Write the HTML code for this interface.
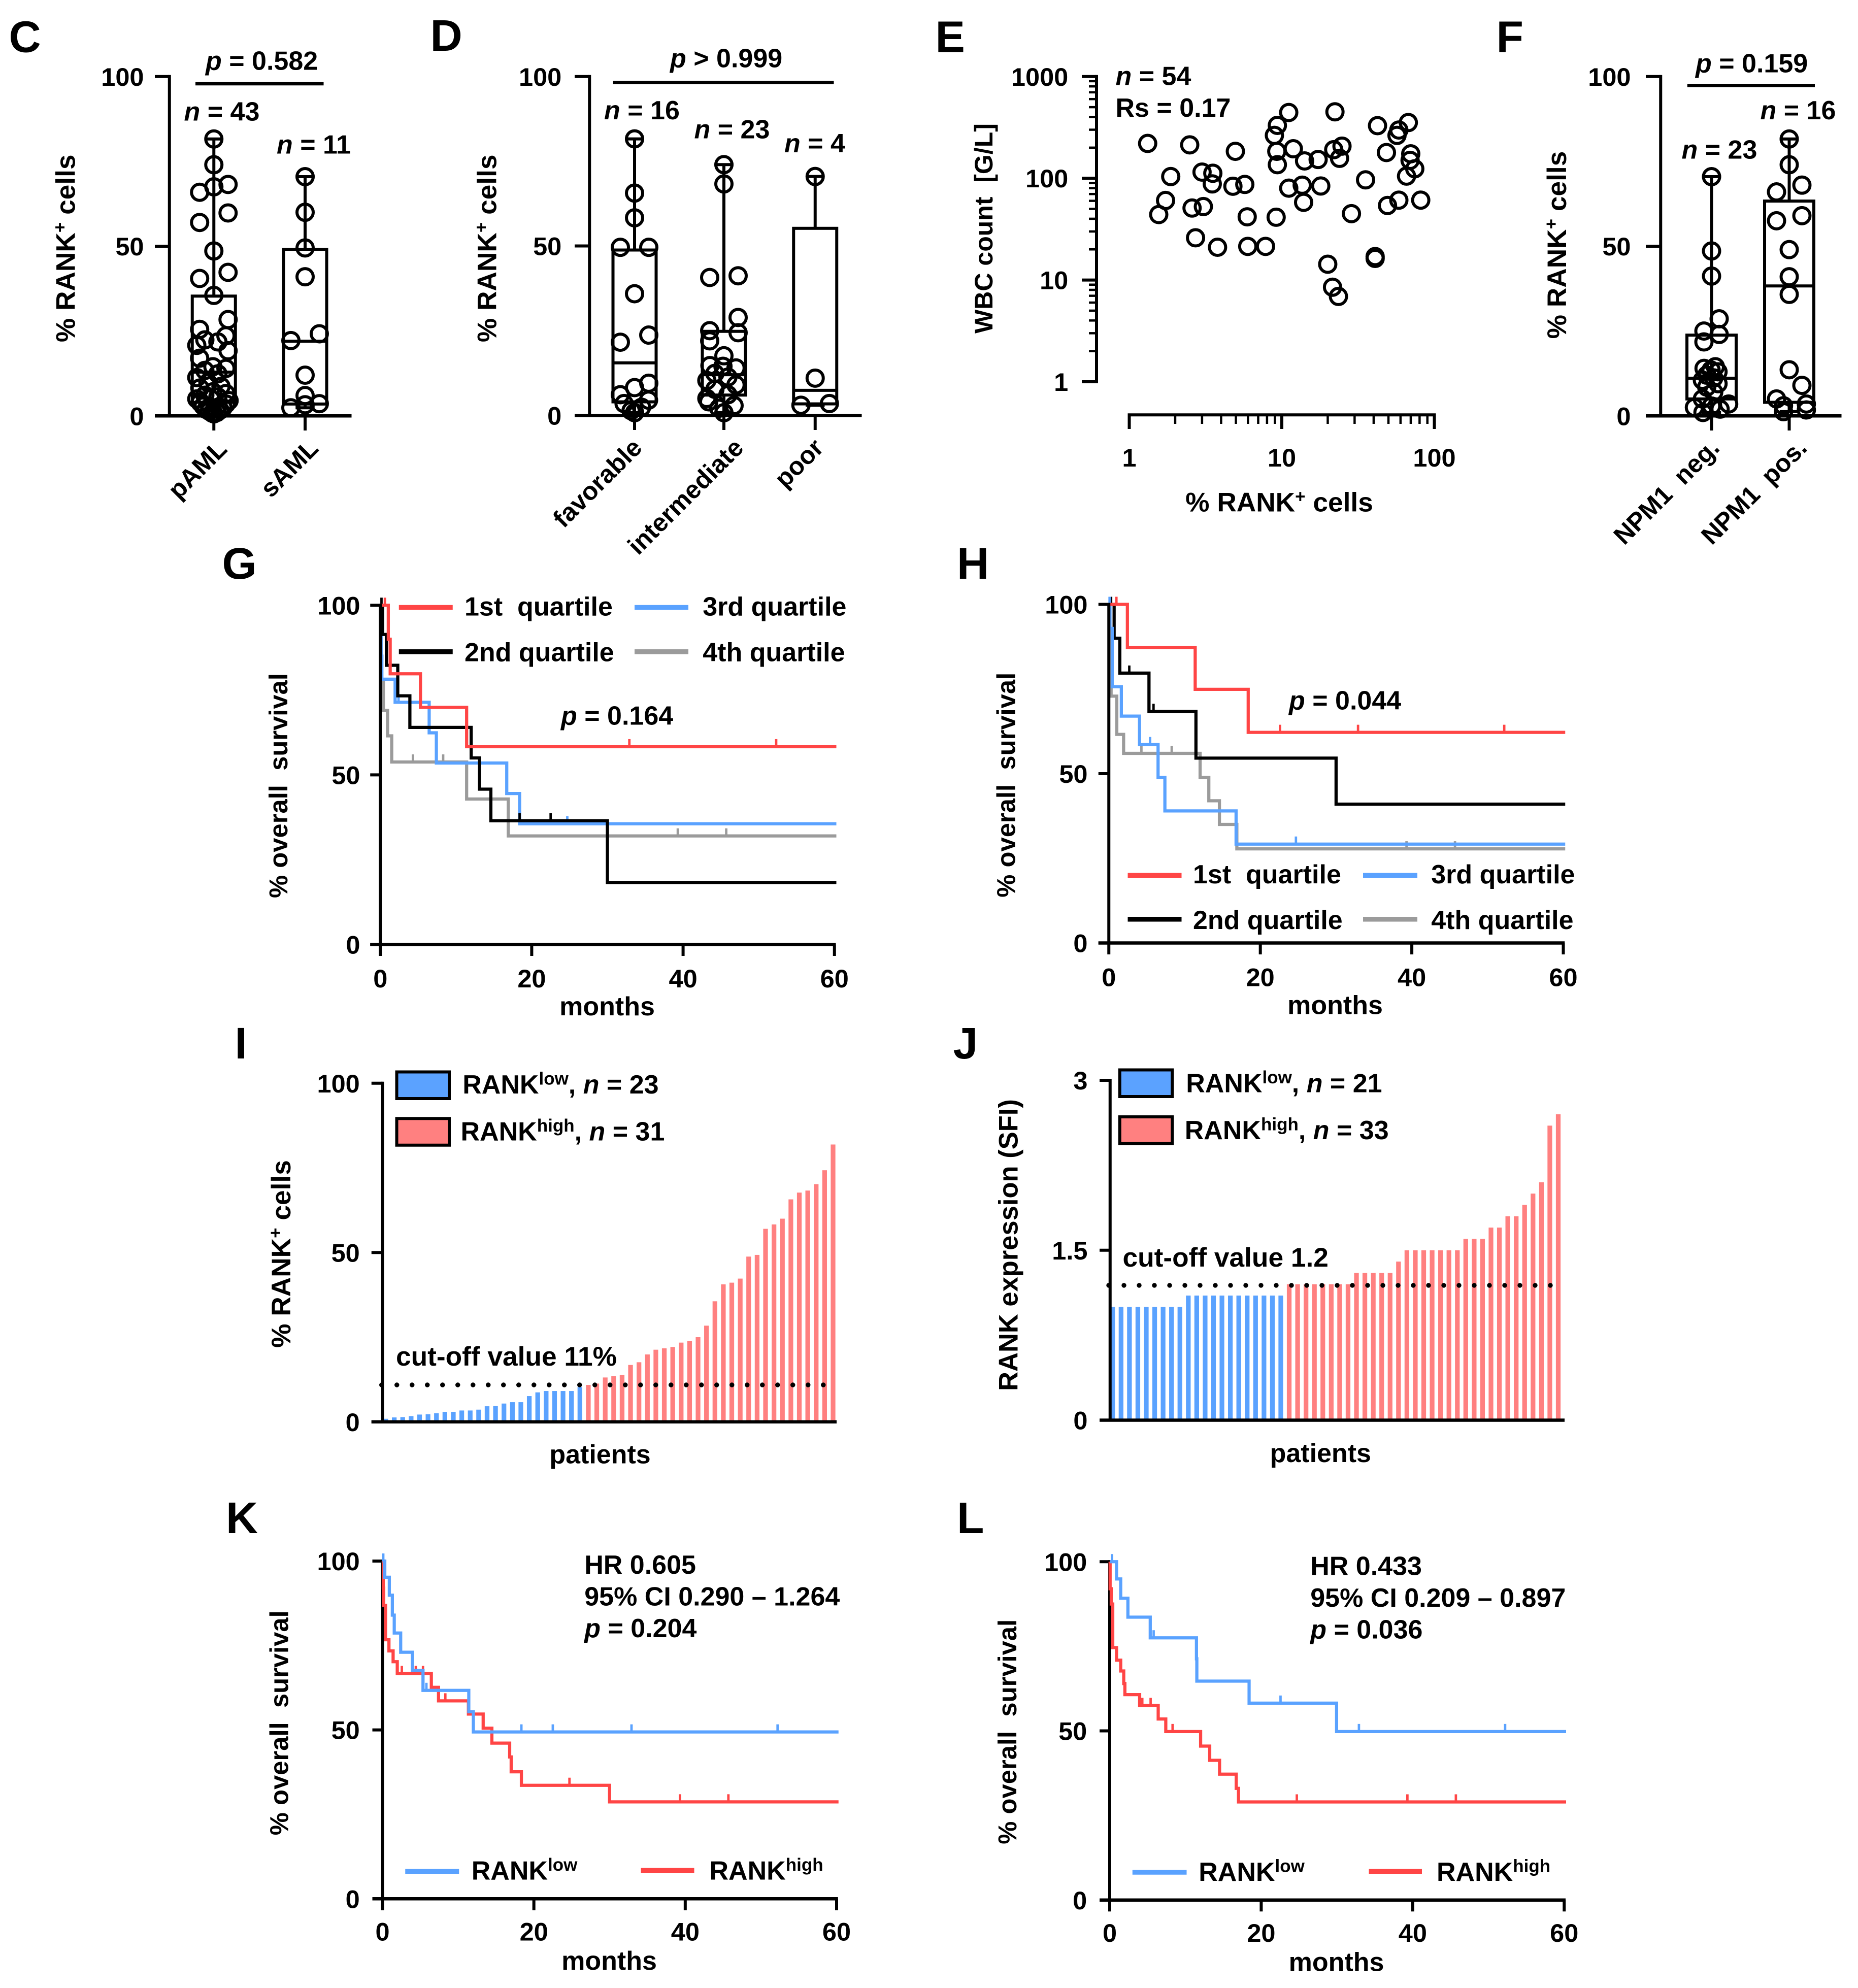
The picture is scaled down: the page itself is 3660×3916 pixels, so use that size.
<!DOCTYPE html>
<html lang="en">
<head>
<meta charset="utf-8">
<title>RANK expression in AML – panels C to L</title>
<style>
html,body{margin:0;padding:0;background:#fff;}
svg{display:block;}
text{font-family:"Liberation Sans",Arial,sans-serif;font-weight:bold;font-size:20.8px;fill:#000;white-space:pre;}
.pl{font-size:35px;}
.it{font-style:italic;}
.sup{font-size:14px;}
.tk{font-size:20.2px;}
.cat{font-size:20px;}
.yr{font-size:21.3px;}
.ys{font-size:20.3px;}
.yw{font-size:20px;}
.yj{font-size:21px;}
</style>
</head>
<body>
<svg id="fig" xmlns="http://www.w3.org/2000/svg" width="3660" height="3916" viewBox="0 0 1464 1566.4">
<rect x="0" y="0" width="1464" height="1566.4" fill="#fff"/>

<!-- panel letters -->
<text class="pl" x="7" y="41">C</text>
<text class="pl" x="339" y="40">D</text>
<text class="pl" x="737" y="41">E</text>
<text class="pl" x="1179" y="41">F</text>
<text class="pl" x="175" y="456">G</text>
<text class="pl" x="754" y="456">H</text>
<text class="pl" x="185" y="834">I</text>
<text class="pl" x="751" y="834">J</text>
<text class="pl" x="178" y="1208">K</text>
<text class="pl" x="754" y="1208">L</text>

<!-- panel C annotations -->
<text class="yr" x="59" y="195.7" text-anchor="middle" transform="rotate(-90 59 195.7)">% RANK<tspan class="sup" dy="-7">+</tspan><tspan dy="7"> cells</tspan></text>
<text x="162" y="55"><tspan class="it">p</tspan> = 0.582</text>
<line x1="154" y1="66" x2="255" y2="66" stroke="#000" stroke-width="2.6"/>
<text x="145" y="95"><tspan class="it">n</tspan> = 43</text>
<text x="218" y="121"><tspan class="it">n</tspan> = 11</text>

<!-- panel D annotations -->
<text class="yr" x="391" y="195.7" text-anchor="middle" transform="rotate(-90 391 195.7)">% RANK<tspan class="sup" dy="-7">+</tspan><tspan dy="7"> cells</tspan></text>
<text x="528" y="53"><tspan class="it">p</tspan> &gt; 0.999</text>
<line x1="483" y1="65" x2="657" y2="65" stroke="#000" stroke-width="2.6"/>
<text x="476" y="94"><tspan class="it">n</tspan> = 16</text>
<text x="547" y="109"><tspan class="it">n</tspan> = 23</text>
<text x="618" y="120"><tspan class="it">n</tspan> = 4</text>

<!-- panel E annotations -->
<text class="yw" x="782" y="180" text-anchor="middle" transform="rotate(-90 782 180)">WBC count  [G/L]</text>
<text class="yr" x="1008" y="403" text-anchor="middle">% RANK<tspan class="sup" dy="-7">+</tspan><tspan dy="7"> cells</tspan></text>
<text x="879" y="67"><tspan class="it">n</tspan> = 54</text>
<text x="879" y="92">Rs = 0.17</text>

<!-- panel F annotations -->
<text class="yr" x="1234" y="193" text-anchor="middle" transform="rotate(-90 1234 193)">% RANK<tspan class="sup" dy="-7">+</tspan><tspan dy="7"> cells</tspan></text>
<text x="1336" y="57"><tspan class="it">p</tspan> = 0.159</text>
<line x1="1329.5" y1="67.3" x2="1430" y2="67.3" stroke="#000" stroke-width="2.6"/>
<text x="1325" y="125"><tspan class="it">n</tspan> = 23</text>
<text x="1387" y="94"><tspan class="it">n</tspan> = 16</text>

<!-- panel G annotations -->
<text class="ys" x="226.4" y="619" text-anchor="middle" transform="rotate(-90 226.4 619)">% overall  survival</text>
<text x="478.4" y="800" text-anchor="middle">months</text>
<text x="442" y="571"><tspan class="it">p</tspan> = 0.164</text>
<line x1="314.3" y1="478.6" x2="356.7" y2="478.6" stroke="#ff4545" stroke-width="3.8"/>
<text x="366" y="485">1st  quartile</text>
<line x1="500" y1="478.6" x2="542.4" y2="478.6" stroke="#5aa2ff" stroke-width="3.8"/>
<text x="553.7" y="485">3rd quartile</text>
<line x1="314.3" y1="513.5" x2="356.7" y2="513.5" stroke="#000" stroke-width="3.8"/>
<text x="366" y="521">2nd quartile</text>
<line x1="500" y1="513.5" x2="542.4" y2="513.5" stroke="#9b9b9b" stroke-width="3.8"/>
<text x="553.7" y="521">4th quartile</text>

<!-- panel H annotations -->
<text class="ys" x="799.7" y="618.5" text-anchor="middle" transform="rotate(-90 799.7 618.5)">% overall  survival</text>
<text x="1052" y="799" text-anchor="middle">months</text>
<text x="1015.6" y="559"><tspan class="it">p</tspan> = 0.044</text>
<line x1="888.6" y1="689.7" x2="931" y2="689.7" stroke="#ff4545" stroke-width="3.8"/>
<text x="940" y="696">1st  quartile</text>
<line x1="1074" y1="689.7" x2="1116.8" y2="689.7" stroke="#5aa2ff" stroke-width="3.8"/>
<text x="1127.7" y="696">3rd quartile</text>
<line x1="888.6" y1="724.3" x2="931" y2="724.3" stroke="#000" stroke-width="3.8"/>
<text x="940" y="732">2nd quartile</text>
<line x1="1074" y1="724.3" x2="1116.8" y2="724.3" stroke="#9b9b9b" stroke-width="3.8"/>
<text x="1127.7" y="732">4th quartile</text>

<!-- panel I annotations -->
<text class="yr" x="228.7" y="988" text-anchor="middle" transform="rotate(-90 228.7 988)">% RANK<tspan class="sup" dy="-7">+</tspan><tspan dy="7"> cells</tspan></text>
<text x="472.8" y="1153" text-anchor="middle">patients</text>
<rect x="312.6" y="844.6" width="41.4" height="21" fill="#5ba2ff" stroke="#000" stroke-width="2.4"/>
<text x="364.5" y="861.5">RANK<tspan class="sup" dy="-7">low</tspan><tspan dy="7">, </tspan><tspan class="it">n</tspan> = 23</text>
<rect x="312.6" y="881.3" width="41.4" height="21" fill="#ff8080" stroke="#000" stroke-width="2.4"/>
<text x="363" y="898.5">RANK<tspan class="sup" dy="-7">high</tspan><tspan dy="7">, </tspan><tspan class="it">n</tspan> = 31</text>
<text class="yr" x="312" y="1076">cut-off value 11%</text>

<!-- panel J annotations -->
<text class="yj" x="801.7" y="981" text-anchor="middle" transform="rotate(-90 801.7 981)">RANK expression (SFI)</text>
<text x="1040.5" y="1152" text-anchor="middle">patients</text>
<rect x="882.3" y="843" width="41.4" height="21" fill="#5ba2ff" stroke="#000" stroke-width="2.4"/>
<text x="934.5" y="860.5">RANK<tspan class="sup" dy="-7">low</tspan><tspan dy="7">, </tspan><tspan class="it">n</tspan> = 21</text>
<rect x="882.3" y="880" width="41.4" height="21" fill="#ff8080" stroke="#000" stroke-width="2.4"/>
<text x="933.5" y="897.5">RANK<tspan class="sup" dy="-7">high</tspan><tspan dy="7">, </tspan><tspan class="it">n</tspan> = 33</text>
<text class="yr" x="884.6" y="998">cut-off value 1.2</text>

<!-- panel K annotations -->
<text class="ys" x="227" y="1357.5" text-anchor="middle" transform="rotate(-90 227 1357.5)">% overall  survival</text>
<text x="480" y="1552" text-anchor="middle">months</text>
<text x="460.5" y="1240">HR 0.605</text>
<text x="460.5" y="1265">95% CI 0.290 – 1.264</text>
<text x="460.5" y="1290"><tspan class="it">p</tspan> = 0.204</text>
<line x1="319.3" y1="1474.5" x2="361.7" y2="1474.5" stroke="#5aa2ff" stroke-width="3.8"/>
<text x="371.5" y="1481">RANK<tspan class="sup" dy="-7">low</tspan></text>
<line x1="505" y1="1473.7" x2="547" y2="1473.7" stroke="#ff4545" stroke-width="3.8"/>
<text x="559" y="1481">RANK<tspan class="sup" dy="-7">high</tspan></text>

<!-- panel L annotations -->
<text class="ys" x="800.7" y="1364.5" text-anchor="middle" transform="rotate(-90 800.7 1364.5)">% overall  survival</text>
<text x="1053" y="1553" text-anchor="middle">months</text>
<text x="1032.5" y="1241">HR 0.433</text>
<text x="1032.5" y="1266">95% CI 0.209 – 0.897</text>
<text x="1032.5" y="1291"><tspan class="it">p</tspan> = 0.036</text>
<line x1="892.3" y1="1475.2" x2="935" y2="1475.2" stroke="#5aa2ff" stroke-width="3.8"/>
<text x="944.5" y="1482">RANK<tspan class="sup" dy="-7">low</tspan></text>
<line x1="1078.6" y1="1474.5" x2="1120.4" y2="1474.5" stroke="#ff4545" stroke-width="3.8"/>
<text x="1132" y="1482">RANK<tspan class="sup" dy="-7">high</tspan></text>
</svg>

<script>
/* ---------- tick arrays ---------- */
const percentTicks = [0, 50, 100];
const percentTickLabels = ['0', '50', '100'];
const monthTicks = [0, 20, 40, 60];
const monthTickLabels = ['0', '20', '40', '60'];
const sfiTicks = [0, 1.5, 3];
const sfiTickLabels = ['0', '1.5', '3'];
const logDecades = [1, 10, 100, 1000];
const logDecadeLabels = ['1', '10', '100', '1000'];
const logXDecades = [1, 10, 100];
const logXDecadeLabels = ['1', '10', '100'];

/* ---------- panel C ---------- */
const pamlValues = [81.6,74,68.2,67.5,65.9,59.8,57,48.6,42.3,40.5,35.5,28.4,25.5,23.6,22.4,21.8,20.8,19.2,17,14.5,14,13.4,12.4,11.3,9.8,8.7,8.2,7.1,6.6,6.1,5.6,5,4.5,4,3.5,2.9,2.4,1.9,1.7,1.4,1,0.8,0.6];
const pamlBox = [0.6, 4, 12.9, 35.3, 81.6];
const samlValues = [70.5,60,49.5,41,24.2,22.2,12,6,3.6,3.3,2.4];
const samlBox = [2.4, 3.5, 22, 49.1, 70.5];

/* ---------- panel D ---------- */
const favorableValues = [81.6,65.6,58.3,49.6,49.6,35.9,23.7,21.6,9.5,8.2,6.1,4.5,3.5,2.4,1.4,0.8];
const favorableBox = [0.8, 4, 15.5, 48.8, 81.6];
const intermediateValues = [74,68.3,41.2,40.7,28.9,25,24.4,22,17.6,14.7,14.5,14,12.4,11.3,10.3,9,7.7,6.1,5,4,2.9,2.1,0.8];
const intermediateBox = [0.8, 6, 12, 24.8, 74];
const poorValues = [70.5,11,3.5,3];
const poorBox = [3, 3.4, 7.4, 55.2, 70.5];

/* ---------- panel E ---------- */
const rankPercent = [1.32,2.49,4.96,1.87,3.0,3.53,3.5,4.78,5.72,1.73,1.56,2.58,3.06,2.72,3.79,5.98,7.82,5.93,9.18,9.35,8.94,11.1,22.3,9.27,9.35,11.9,14.1,17.3,11.1,13.6,18,13.9,28.6,21.9,24.8,23.9,35.4,42.4,48.5,58.5,56.9,67.5,70,69.3,74.4,65.7,58.5,49.3,81.4,20,21.5,23.5,40.9,40.9];
const wbcCount = [220,213,184,104,115,112,88,83.5,87,60.5,44,51,52.7,26,21,21.4,21.4,41.8,41.4,331,264,443,450,184,136,195,148,153,80,85.5,84,58,44.9,191,207,157,96.5,329,179,298,264,353,174,150,124,105,61,54,61,14.3,8.5,6.9,17,16.3];

/* ---------- panel F ---------- */
const npm1NegValues = [70.5,48.6,41.2,28.6,25,24,21.8,14.5,14,13.5,13,12,11.2,10.5,9.5,8.5,7,5,3.5,2.9,2.5,2,1];
const npm1NegBox = [1, 5, 11.1, 23.8, 70.5];
const npm1PosValues = [81.6,74,68,66,59,57.5,49,41,35.8,13.6,9,5,3.5,3,1.75,1.25];
const npm1PosBox = [1.25, 4, 38.3, 63.3, 81.6];

/* ---------- panel G survival ---------- */
const gQ1Months = [1.05,1.3,5.3,11.4];
const gQ1Surv = [90,79.8,69.9,58.3];
const gQ1Censored = [0.6,32.9,52.3];
const gQ2Months = [0.3,0.8,2.3,3.9,12,13.1,14.6,30];
const gQ2Surv = [91.4,82.3,73.3,64,55,45.8,36.5,18.3];
const gQ2Censored = [0.15,18.4,22.5];
const gQ3Months = [0.1,0.2,1.95,6.45,7.4,16.7,18.4];
const gQ3Surv = [85,78.2,71.4,62.4,53.5,44.5,35.6];
const gQ3Censored = [2.4,24.7];
const gQ4Months = [0.1,0.4,0.95,1.5,11.4,16.9];
const gQ4Surv = [78,69,61.5,53.8,42.9,32];
const gQ4Censored = [4.3,8.3,39.3,45.7];

/* ---------- panel H survival ---------- */
const hQ1Months = [2.45,11.4,18.4];
const hQ1Surv = [87.3,74.9,62.2];
const hQ1Censored = [1,22.6,32.9,52.2];
const hQ2Months = [0.7,1.45,5.3,11.5,30];
const hQ2Surv = [90,79.7,68.4,54.6,41];
const hQ2Censored = [0.3,2.7,5.9];
const hQ3Months = [0.15,0.45,1.65,4.05,6.5,7.4,16.8];
const hQ3Surv = [92.9,75.7,67,58.6,48.9,39,29.2];
const hQ3Censored = [0.1,5.45,24.7];
const hQ4Months = [0.1,0.3,1.05,1.95,12.05,13.2,14.6,16.9];
const hQ4Surv = [84.7,72.9,61.6,56,48.9,42,35,27.8];
const hQ4Censored = [4.3,8.3,39.3,45.7];

/* ---------- panel I bars ---------- */
const iLowValues = [0.9,1.3,1.4,1.7,2.15,2.25,2.55,2.95,2.95,3.35,3.35,3.6,4.6,4.65,5.4,5.8,5.8,7.6,8.7,9.1,9.1,9.1,9.1,10.25];
const iHighValues = [10.9,11.3,13.1,13.5,13.9,16.8,17.6,19.9,21.3,21.7,22.1,23.4,23.8,25,28.4,35.6,40.6,41.1,42.3,48.8,49.3,57,58.3,60,65.7,67.7,68.3,70.2,74.3,81.9];
const iCutoff = 10.9;

/* ---------- panel J bars ---------- */
const jLowValues = [1,1,1,1,1,1,1,1,1,1.1,1.1,1.1,1.1,1.1,1.1,1.1,1.1,1.1,1.1,1.1,1.1];
const jHighValues = [1.2,1.2,1.2,1.2,1.2,1.2,1.2,1.2,1.3,1.3,1.3,1.3,1.3,1.4,1.5,1.5,1.5,1.5,1.5,1.5,1.5,1.6,1.6,1.6,1.7,1.7,1.8,1.8,1.9,2.0,2.1,2.6,2.7];
const jCutoff = 1.19;

/* ---------- panel K survival ---------- */
const kLowMonths = [0.3,0.9,1.3,1.55,2.4,3.95,5.35,11.4,12];
const kLowSurv = [95.2,89.9,84,78.7,73,67.6,61.7,55.4,49.4];
const kLowCensored = [0.1,5.8,18.35,22.5,32.9,52.2];
const kHighMonths = [0.1,0.15,0.4,0.85,1.4,1.95,6.45,7.4,11.35,13.3,14.45,16.8,17,18.35,30];
const kHighSurv = [92,86.9,76.7,73.4,70.2,66.7,62.6,58.6,54.7,50.5,46.1,42,37.6,33.6,28.7];
const kHighCensored = [2.55,4.4,5.35,8.3,24.7,39.3,45.7];

/* ---------- panel L survival ---------- */
const lLowMonths = [0.9,1.45,2.4,5.35,11.45,11.5,18.4,29.95];
const lLowSurv = [94.9,89.2,83.6,77.5,71.3,64.7,58.2,49.8];
const lLowCensored = [0.3,5.8,22.55,32.9,52.2];
const lHighMonths = [0.05,0.2,0.4,0.9,1.45,1.85,2,3.95,6.4,7.4,12,13.2,14.5,16.7,17];
const lHighSurv = [92,87.5,74.6,70.9,67.7,64,60.7,57.5,53.5,49.8,45.5,41.3,37.2,33,29];
const lHighCensored = [4.3,5.4,8.3,24.7,39.3,45.7];

/* ---------- helpers ---------- */
const SVG_NS = 'http://www.w3.org/2000/svg';
const fig = document.getElementById('fig');
const RED = '#ff4545', BLUE = '#5aa2ff', GREY = '#9b9b9b', BLACK = '#000';
const AXIS_W = 2.4;
const CURVE_W = 2.5;

function make(tag, attrs, parent) {
  const e = document.createElementNS(SVG_NS, tag);
  for (const k in attrs) e.setAttribute(k, attrs[k]);
  parent.appendChild(e);
  return e;
}
function linear(d0, d1, r0, r1) {
  return v => r0 + (v - d0) * (r1 - r0) / (d1 - d0);
}
function panelGroup(name) {
  const g = make('g', {}, fig);
  
  
  return g;
}
function drawYAxis(parent, y, ticks, labels, axisX, tickLeft, labelRight) {
  const top = Math.min(...ticks.map(y)), bottom = Math.max(...ticks.map(y));
  const axis = make('line', {x1: axisX, x2: axisX, y1: top - 1.2, y2: bottom + 1.2, stroke: BLACK, 'stroke-width': AXIS_W}, parent);
  
  
  ticks.forEach((t, i) => {
    const tk = make('line', {x1: tickLeft, x2: axisX, y1: y(t), y2: y(t), stroke: BLACK, 'stroke-width': AXIS_W}, parent);
    
    
    const lb = make('text', {x: labelRight, y: y(t) + 7.2, 'text-anchor': 'end', class: 'tk'}, parent);
    lb.textContent = labels[i];
    
    
  });
}
function drawBaseline(parent, x0, x1, yPos) {
  const base = make('line', {x1: x0, x2: x1, y1: yPos, y2: yPos, stroke: BLACK, 'stroke-width': 2.6}, parent);
  
  
}
/* step: sideways spread of shallow bins; bottomSpread: half-width of the lowest bin;
   taper: lowest bin narrows toward zero (dense ogive shape) */
function drawCategory(parent, cx, half, step, bottomSpread, taper, y, values, box, label, labelX, labelY) {
  const [lo, q1, med, q3, hi] = box;
  const tk = make('line', {x1: cx, x2: cx, y1: y(0), y2: y(0) + 11.5, stroke: BLACK, 'stroke-width': AXIS_W}, parent);
  
  
  const rect = make('rect', {x: cx - half, y: y(q3), width: half * 2, height: y(q1) - y(q3), fill: 'none', stroke: BLACK, 'stroke-width': AXIS_W}, parent);
  
  
  const medLine = make('line', {x1: cx - half, x2: cx + half, y1: y(med), y2: y(med), stroke: BLACK, 'stroke-width': AXIS_W}, parent);
  
  
  const whiskerTop = make('path', {d: `M${cx} ${y(q3)}V${y(hi)}M${cx - 7.5} ${y(hi)}H${cx + 7.5}`, fill: 'none', stroke: BLACK, 'stroke-width': AXIS_W}, parent);
  
  
  const whiskerLow = make('path', {d: `M${cx} ${y(q1)}V${y(lo)}M${cx - 7.5} ${y(lo)}H${cx + 7.5}`, fill: 'none', stroke: BLACK, 'stroke-width': AXIS_W}, parent);
  
  
  /* binned swarm: points sharing a 5-unit bin are spread sideways */
  const bins = {};
  values.forEach(v => {
    const key = Math.floor(v / 5);
    (bins[key] = bins[key] || []).push(v);
  });
  Object.keys(bins).forEach(key => {
    const members = bins[key].slice().sort((a, b) => a - b);
    const n = members.length;
    members.forEach((v, i) => {
      let off = 0;
      if (n === 2) off = (i === 0 ? -1 : 1) * step;
      else if (n === 3) off = [-1, 0, 1][i] * step;
      else if (n > 3) {
        if (key === '0' && taper) {
          off = (i % 2 ? -1 : 1) * bottomSpread * (i / (n - 1));
        } else if (key === '0') {
          off = (((i * 2 + 1) % n) / (n - 1) * 2 - 1) * bottomSpread;
        } else {
          off = ((i * 0.618034) % 1) * 2.4 * step - 1.2 * step;
        }
      }
      const dot = make('circle', {cx: cx + off, cy: y(v), r: 6.4, fill: 'none', stroke: BLACK, 'stroke-width': 2.4}, parent);
      
      
    });
  });
  const cat = make('text', {x: labelX, y: labelY, 'text-anchor': 'end', class: 'cat', transform: `rotate(-45 ${labelX} ${labelY})`}, parent);
  cat.textContent = label;
  
  
}
function survivalAt(t, months, surv) {
  let s = 100;
  months.forEach((m, i) => { if (t >= m) s = surv[i]; });
  return s;
}
function drawCurve(parent, x, y, months, surv, censored, color, name) {
  let d = `M${x(0)} ${y(100)}`;
  months.forEach((m, i) => { d += `H${x(m)}V${y(surv[i])}`; });
  d += `H${x(60) + 1.5}`;
  const line = make('path', {d: d, fill: 'none', stroke: color, 'stroke-width': CURVE_W}, parent);
  
  
  censored.forEach(t => {
    const ty = y(survivalAt(t, months, surv));
    const mark = make('line', {x1: x(t), x2: x(t), y1: ty, y2: ty - 6, stroke: color, 'stroke-width': 1.9}, parent);
    
    
  });
}
function drawMonthAxis(parent, x, y0, tickLeft, labelY) {
  drawBaseline(parent, tickLeft, x(60) + 1.1, y0);
  monthTicks.forEach((t, i) => {
    const tk = make('line', {x1: x(t), x2: x(t), y1: y0, y2: y0 + 9, stroke: BLACK, 'stroke-width': AXIS_W}, parent);
    
    
    const lb = make('text', {x: x(t), y: labelY, 'text-anchor': 'middle', class: 'tk'}, parent);
    lb.textContent = monthTickLabels[i];
    
    
  });
}
function drawBars(parent, firstX, lastX, y, low, high, barWidth) {
  const total = low.length + high.length;
  const x = linear(0, total - 1, firstX, lastX);
  low.concat(high).forEach((v, i) => {
    const isLow = i < low.length;
    const bar = make('rect', {x: x(i) - barWidth / 2, y: y(v), width: barWidth, height: y(0) - y(v), fill: isLow ? '#5aa2ff' : '#ff8080'}, parent);
    
    
  });
}
function drawCutoff(parent, x0, x1, yPos) {
  const dots = make('line', {x1: x0, x2: x1, y1: yPos, y2: yPos, stroke: BLACK, 'stroke-width': 3.8, 'stroke-linecap': 'round', 'stroke-dasharray': '0 12'}, parent);
  
  
}

/* ---------- panel C ---------- */
(function () {
  const g = panelGroup('panel-c-box-plot');
  const y = linear(0, 100, 327.7, 60.3);
  drawYAxis(g, y, percentTicks, percentTickLabels, 133.5, 122, 113.4);
  drawBaseline(g, 122, 277, y(0));
  drawCategory(g, 168.5, 17, 11.2, 12, true, y, pamlValues, pamlBox, 'pAML', 180, 355);
  drawCategory(g, 240.4, 17, 11.2, 11, false, y, samlValues, samlBox, 'sAML', 252, 354.5);
})();

/* ---------- panel D ---------- */
(function () {
  const g = panelGroup('panel-d-box-plot');
  const y = linear(0, 100, 327.3, 60.3);
  drawYAxis(g, y, percentTicks, percentTickLabels, 464.5, 452.8, 442.5);
  drawBaseline(g, 452.8, 679, y(0));
  drawCategory(g, 500, 17, 11.2, 11, true, y, favorableValues, favorableBox, 'favorable', 507, 354);
  drawCategory(g, 570.4, 17, 11.2, 12, true, y, intermediateValues, intermediateBox, 'intermediate', 587, 354);
  drawCategory(g, 642.3, 17, 11.2, 11, false, y, poorValues, poorBox, 'poor', 650, 354);
})();

/* ---------- panel E ---------- */
(function () {
  const g = panelGroup('panel-e-scatter');
  const xLog = v => linear(0, 2, 889.8, 1130.2)(Math.log10(v));
  const yLog = v => linear(0, 3, 300.8, 60.3)(Math.log10(v));
  const yAxis = make('line', {x1: 864, x2: 864, y1: yLog(1000) - 1.2, y2: yLog(1) + 1.2, stroke: BLACK, 'stroke-width': AXIS_W}, g);
  
  
  const xAxis = make('line', {x1: xLog(1) - 1.2, x2: xLog(100) + 1.2, y1: 326.9, y2: 326.9, stroke: BLACK, 'stroke-width': AXIS_W}, g);
  
  
  logDecades.forEach((d, i) => {
    const tk = make('line', {x1: 852.4, x2: 864, y1: yLog(d), y2: yLog(d), stroke: BLACK, 'stroke-width': AXIS_W}, g);
    
    
    const lb = make('text', {x: 841.7, y: yLog(d) + 7.2, 'text-anchor': 'end', class: 'tk'}, g);
    lb.textContent = logDecadeLabels[i];
    
    
    if (d < 1000) {
      for (let m = 2; m < 10; m++) {
        const mn = make('line', {x1: 858, x2: 864, y1: yLog(d * m), y2: yLog(d * m), stroke: BLACK, 'stroke-width': 1.8}, g);
        
        
      }
    }
  });
  logXDecades.forEach((d, i) => {
    const tk = make('line', {x1: xLog(d), x2: xLog(d), y1: 326.9, y2: 338, stroke: BLACK, 'stroke-width': AXIS_W}, g);
    
    
    const lb = make('text', {x: xLog(d), y: 367.6, 'text-anchor': 'middle', class: 'tk'}, g);
    lb.textContent = logXDecadeLabels[i];
    
    
    if (d < 100) {
      for (let m = 2; m < 10; m++) {
        const mn = make('line', {x1: xLog(d * m), x2: xLog(d * m), y1: 326.9, y2: 334, stroke: BLACK, 'stroke-width': 1.8}, g);
        
        
      }
    }
  });
  rankPercent.forEach((v, i) => {
    const dot = make('circle', {cx: xLog(v), cy: yLog(wbcCount[i]), r: 6.4, fill: 'none', stroke: BLACK, 'stroke-width': 2.4}, g);
    
    
  });
})();

/* ---------- panel F ---------- */
(function () {
  const g = panelGroup('panel-f-box-plot');
  const y = linear(0, 100, 327.7, 60.3);
  drawYAxis(g, y, percentTicks, percentTickLabels, 1308.5, 1296.8, 1285);
  drawBaseline(g, 1296.8, 1451, y(0));
  drawCategory(g, 1348.6, 19.4, 6, 13.5, false, y, npm1NegValues, npm1NegBox, 'NPM1  neg.', 1356, 354);
  drawCategory(g, 1409.8, 19.4, 10, 13.5, false, y, npm1PosValues, npm1PosBox, 'NPM1  pos.', 1425, 354);
})();

/* ---------- panel G ---------- */
(function () {
  const g = panelGroup('panel-g-survival');
  const x = linear(0, 60, 299.7, 657.5);
  const y = linear(0, 100, 744.2, 476.9);
  drawCurve(g, x, y, gQ4Months, gQ4Surv, gQ4Censored, GREY, 'curve-4th-quartile');
  drawCurve(g, x, y, gQ3Months, gQ3Surv, gQ3Censored, BLUE, 'curve-3rd-quartile');
  drawCurve(g, x, y, gQ2Months, gQ2Surv, gQ2Censored, BLACK, 'curve-2nd-quartile');
  drawCurve(g, x, y, gQ1Months, gQ1Surv, gQ1Censored, RED, 'curve-1st-quartile');
  drawYAxis(g, y, percentTicks, percentTickLabels, x(0), 291.7, 283.8);
  drawMonthAxis(g, x, y(0), 291.7, 778);
})();

/* ---------- panel H ---------- */
(function () {
  const g = panelGroup('panel-h-survival');
  const x = linear(0, 60, 873.7, 1231.8);
  const y = linear(0, 100, 743, 476.2);
  drawCurve(g, x, y, hQ4Months, hQ4Surv, hQ4Censored, GREY, 'curve-4th-quartile');
  drawCurve(g, x, y, hQ2Months, hQ2Surv, hQ2Censored, BLACK, 'curve-2nd-quartile');
  drawCurve(g, x, y, hQ3Months, hQ3Surv, hQ3Censored, BLUE, 'curve-3rd-quartile');
  drawCurve(g, x, y, hQ1Months, hQ1Surv, hQ1Censored, RED, 'curve-1st-quartile');
  drawYAxis(g, y, percentTicks, percentTickLabels, x(0), 865.5, 857);
  drawMonthAxis(g, x, y(0), 865.5, 777);
})();

/* ---------- panel I ---------- */
(function () {
  const g = panelGroup('panel-i-bars');
  const y = linear(0, 100, 1120.3, 853.5);
  drawBars(g, 304, 656.4, y, iLowValues, iHighValues, 3.7);
  drawCutoff(g, 300.7, 650.5, y(iCutoff));
  drawYAxis(g, y, percentTicks, percentTickLabels, 301.4, 292.7, 283.5);
  drawBaseline(g, 292.7, 659.2, y(0));
})();

/* ---------- panel J ---------- */
(function () {
  const g = panelGroup('panel-j-bars');
  const y = linear(0, 3, 1119, 851.2);
  drawBars(g, 876.7, 1227.8, y, jLowValues, jHighValues, 3.7);
  drawCutoff(g, 873.6, 1222, y(jCutoff));
  drawYAxis(g, y, sfiTicks, sfiTickLabels, 874.7, 866.4, 857);
  drawBaseline(g, 866.4, 1232.8, y(0));
})();

/* ---------- panel K ---------- */
(function () {
  const g = panelGroup('panel-k-survival');
  const x = linear(0, 60, 301.4, 659.2);
  const y = linear(0, 100, 1496.1, 1230);
  drawYAxis(g, y, percentTicks, percentTickLabels, x(0), 293.4, 283.5);
  drawMonthAxis(g, x, y(0), 293.4, 1529);
  drawCurve(g, x, y, kHighMonths, kHighSurv, kHighCensored, RED, 'curve-rank-high');
  drawCurve(g, x, y, kLowMonths, kLowSurv, kLowCensored, BLUE, 'curve-rank-low');
})();

/* ---------- panel L ---------- */
(function () {
  const g = panelGroup('panel-l-survival');
  const x = linear(0, 60, 874.4, 1232.5);
  const y = linear(0, 100, 1497.1, 1230.5);
  drawYAxis(g, y, percentTicks, percentTickLabels, x(0), 866.4, 856.5);
  drawMonthAxis(g, x, y(0), 866.4, 1530);
  drawCurve(g, x, y, lHighMonths, lHighSurv, lHighCensored, RED, 'curve-rank-high');
  drawCurve(g, x, y, lLowMonths, lLowSurv, lLowCensored, BLUE, 'curve-rank-low');
})();
</script>
</body>
</html>
